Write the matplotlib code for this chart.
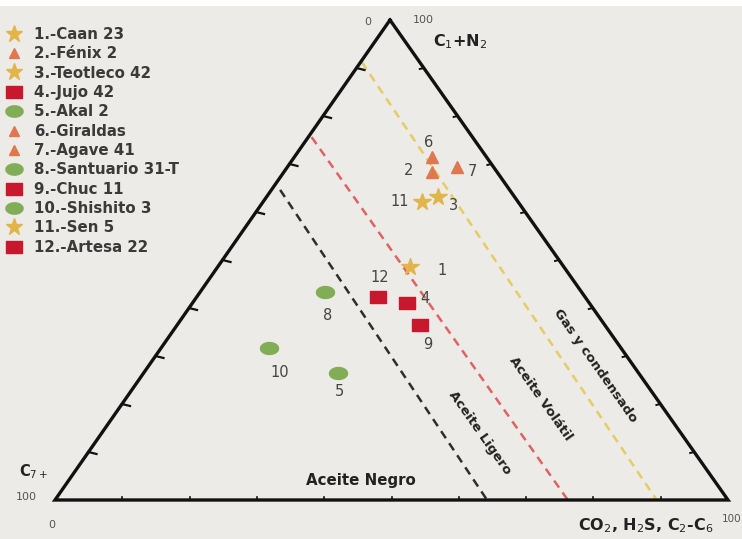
import matplotlib
matplotlib.use("Agg")
import matplotlib.pyplot as plt
from matplotlib.lines import Line2D
from matplotlib.path import Path
import numpy as np

# --- well data: C1+N2, CO2/H2S/C2-C6 (percent); C7+ is the remainder ---
wells = ["Caan 23", "Fénix 2", "Teotleco 42", "Jujo 42", "Akal 2", "Giraldas",
         "Agave 41", "Santuario 31-T", "Chuc 11", "Shishito 3", "Sen 5", "Artesa 22"]
fluid = ["gas", "tri", "gas", "sq", "oil", "tri", "tri", "oil", "sq", "oil", "gas", "sq"]
c1n2 = [48.5, 68.3, 63.1, 41.0, 26.5, 71.5, 69.4, 43.3, 36.5, 31.7, 62.1, 42.3]
co2_c6 = [28.6, 22.0, 25.5, 31.9, 28.9, 20.5, 25.2, 18.6, 36.1, 16.0, 23.6, 26.9]
c7plus = [100 - a - b for a, b in zip(c1n2, co2_c6)]

# fluid-type boundaries: start (C1+N2, CO2..C6) near left side, end on the base (CO2..C6)
bound_names = ["Aceite Negro/Ligero", "Ligero/Volátil", "Volátil/Gas"]
bound_start_c1 = [64.6, 75.6, 91.2]
bound_start_co2 = [1.3, 0.5, 0.2]
bound_end_co2 = [64.2, 76.2, 89.4]
bound_colors = ["#2e2e2e", "#e06262", "#e6cc62"]

# --- triangle geometry (figure pixels) ---
TOP = np.array([390.0, 20.0])
BL = np.array([55.0, 500.0])
BR = np.array([728.0, 500.0])


def tern(a, b):
    """Convert (C1+N2 %, CO2..C6 %) to plot coordinates."""
    a = np.asarray(a, float) / 100.0
    b = np.asarray(b, float) / 100.0
    x = BL[0] + a * (TOP[0] - BL[0]) + b * (BR[0] - BL[0])
    y = BL[1] + a * (TOP[1] - BL[1]) + b * (BR[1] - BL[1])
    return x, y


W, H = 742, 539
fig = plt.figure(figsize=(W / 100, H / 100), dpi=100, facecolor="#ecebe7")
ax = fig.add_axes([0, 0, 1, 1])
ax.set_xlim(0, W)
ax.set_ylim(H, 0)
ax.axis("off")
ax.add_patch(plt.Rectangle((0, 0), W, 5, color="white", zorder=0))

# triangle frame
tri = np.array([TOP, BR, BL, TOP])
ax.plot(tri[:, 0], tri[:, 1], color="#111111", lw=2.4, solid_joinstyle="miter", zorder=3)

# tick marks every 10 %
for k in range(1, 10):
    f = k / 10
    # left edge: short horizontal ticks pointing inward
    p = BL + f * (TOP - BL)
    ax.plot([p[0], p[0] + 8], [p[1], p[1] + 2], color="#111111", lw=1.6, zorder=3)
    # right edge
    p = BR + f * (TOP - BR)
    ax.plot([p[0], p[0] - 4], [p[1], p[1] + 1], color="#111111", lw=1.4, zorder=3)
    # base
    p = BL + f * (BR - BL)
    ax.plot([p[0], p[0]], [p[1], p[1] - 3], color="#111111", lw=1.2, zorder=3)

# boundary lines
for sc1, sco, eco, col in zip(bound_start_c1, bound_start_co2, bound_end_co2, bound_colors):
    x, y = tern([sc1, 0.0], [sco, eco])
    ax.plot(x, y, color=col, lw=1.8, dashes=(3.4, 2.4), zorder=2)

# marker shapes
t = np.linspace(0, 2 * np.pi, 40)
ellipse = Path(np.column_stack([np.cos(t), 0.66 * np.sin(t)]))
rect = Path([(-1, -0.74), (1, -0.74), (1, 0.74), (-1, 0.74), (-1, -0.74)],
            [Path.MOVETO, Path.LINETO, Path.LINETO, Path.LINETO, Path.CLOSEPOLY])
style = {
    "gas": dict(marker="*", color="#e2b54a", ms=13),
    "tri": dict(marker="^", color="#e0784f", ms=8),
    "sq": dict(marker=rect, color="#c8182e", ms=12),
    "oil": dict(marker=ellipse, color="#80ad55", ms=13),
}

label_off = [(32, 3), (-23, -2), (15, 8), (18, -5), (1, 19), (-4, -14),
             (15, 5), (2, 23), (8, 20), (11, 25), (-22, 0), (2, -19)]

xs, ys = tern(c1n2, co2_c6)
handles = []
for i, (name, fl) in enumerate(zip(wells, fluid)):
    st = style[fl]
    ax.plot(xs[i], ys[i], linestyle="none", marker=st["marker"], ms=st["ms"],
            color=st["color"], mec=st["color"], zorder=4)
    dx, dy = label_off[i]
    ax.text(xs[i] + dx, ys[i] + dy, str(i + 1), fontsize=10.5, color="#444444",
            ha="center", va="center", zorder=5)
    handles.append(Line2D([], [], linestyle="none", marker=st["marker"],
                          ms=st["ms"] * 0.95, color=st["color"],
                          label=f"{i + 1}.-{name}"))

leg = ax.legend(handles=handles, loc="upper left", bbox_to_anchor=(6 / W, 1 - 27 / H),
                frameon=False, prop=dict(size=10.8, weight="bold"),
                handlelength=1.05, handletextpad=0.8,
                labelspacing=0.29, borderpad=0, borderaxespad=0)
for txt in leg.get_texts():
    txt.set_color("#3a3a3a")

# corner labels
lab = dict(color="#222222", fontweight="bold")
ax.text(368, 22, "0", fontsize=8, color="#555555", ha="center", va="center")
ax.text(423, 20, "100", fontsize=8, color="#555555", ha="center", va="center")
ax.text(460, 42, "C$_1$+N$_2$", fontsize=11.5, ha="center", va="center", **lab)
ax.text(33, 472, "C$_{7+}$", fontsize=10.5, ha="center", va="center", **lab)
ax.text(26, 497, "100", fontsize=8, color="#555555", ha="center", va="center")
ax.text(52, 525, "0", fontsize=8, color="#555555", ha="center", va="center")
ax.text(646, 526, "CO$_2$, H$_2$S, C$_2$-C$_6$", fontsize=11.5, ha="center", va="center", **lab)
ax.text(741, 519, "100", fontsize=7.5, color="#555555", ha="right", va="center")

# region names
ang = -np.degrees(np.arctan2(BR[1] - TOP[1], BR[0] - TOP[0]))
ax.text(361, 480, "Aceite Negro", fontsize=10.8, ha="center", va="center", **lab)
ax.text(480, 433, "Aceite Ligero", fontsize=9.5, ha="center", va="center",
        rotation=ang, rotation_mode="anchor", **lab)
ax.text(541, 399, "Aceite Volátil", fontsize=9.5, ha="center", va="center",
        rotation=ang, rotation_mode="anchor", **lab)
ax.text(595, 366, "Gas y condensado", fontsize=9.5, ha="center", va="center",
        rotation=ang, rotation_mode="anchor", **lab)

fig.savefig("out.png", dpi=100, facecolor=fig.get_facecolor())
